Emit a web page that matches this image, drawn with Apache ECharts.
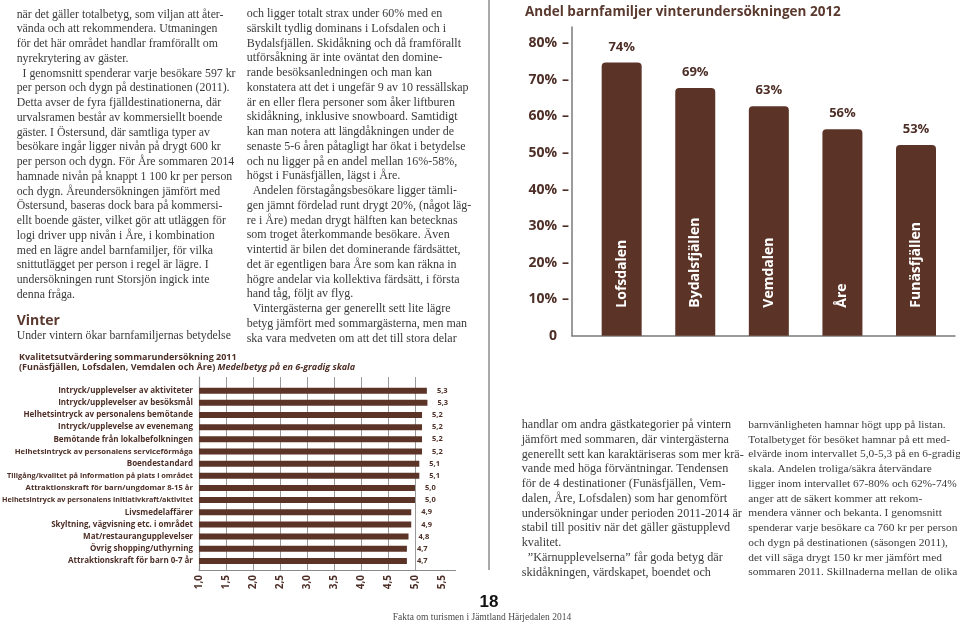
<!DOCTYPE html>
<html><head><meta charset="utf-8">
<script src="https://cdn.jsdelivr.net/npm/echarts@6/dist/echarts.min.js"></script>
<style>html,body{margin:0;padding:0;background:#fff}#c{width:960px;height:624px}</style>
</head><body><div id="c"></div>
<script>
// ---- Chart 1: Andel barnfamiljer vinterundersökningen 2012 ----
const familyCategories = ['Lofsdalen', 'Bydalsfjällen', 'Vemdalen', 'Åre', 'Funäsfjällen'];
const familyValues = [74.8, 67.8, 62.8, 56.5, 52.2];
const familyLabels = ['74%', '69%', '63%', '56%', '53%'];

// ---- Chart 2: Kvalitetsutvärdering sommarundersökning 2011 ----
const qualityCategories = [
  'Intryck/upplevelser av aktiviteter',
  'Intryck/upplevelser av besöksmål',
  'Helhetsintryck av personalens bemötande',
  'Intryck/upplevelse av evenemang',
  'Bemötande från lokalbefolkningen',
  'Helhetsintryck av personalens serviceförmåga',
  'Boendestandard',
  'Tillgång/kvalitet på information på plats i området',
  'Attraktionskraft för barn/ungdomar 8-15 år',
  'Helhetsintryck av personalens initiativkraft/aktivitet',
  'Livsmedelaffärer',
  'Skyltning, vägvisning etc. i området',
  'Mat/restaurangupplevelser',
  'Övrig shopping/uthyrning',
  'Attraktionskraft för barn 0-7 år'
];
const qualityValues = [5.22, 5.23, 5.13, 5.13, 5.13, 5.13, 5.08, 5.08, 5.0, 5.0, 4.93, 4.93, 4.88, 4.85, 4.85];
const qualityLabels = ['5,3', '5,3', '5,2', '5,2', '5,2', '5,2', '5,1', '5,1', '5,0', '5,0', '4,9', '4,9', '4,8', '4,7', '4,7'];

// ---- Page text ----
const col1 = [
  'när det gäller totalbetyg, som viljan att åter-',
  'vända och att rekommendera. Utmaningen',
  'för det här området handlar framförallt om',
  'nyrekrytering av gäster.',
  '\u2002I genomsnitt spenderar varje besökare 597 kr',
  'per person och dygn på destinationen (2011).',
  'Detta avser de fyra fjälldestinationerna, där',
  'urvalsramen består av kommersiellt boende',
  'gäster. I Östersund, där samtliga typer av',
  'besökare ingår ligger nivån på drygt 600 kr',
  'per person och dygn. För Åre sommaren 2014',
  'hamnade nivån på knappt 1 100 kr per person',
  'och dygn. Åreundersökningen jämfört med',
  'Östersund, baseras dock bara på kommersi-',
  'ellt boende gäster, vilket gör att utläggen för',
  'logi driver upp nivån i Åre, i kombination',
  'med en lägre andel barnfamiljer, för vilka',
  'snittutlägget per person i regel är lägre. I',
  'undersökningen runt Storsjön ingick inte',
  'denna fråga.'
];
const col1b = ['Under vintern ökar barnfamiljernas betydelse'];
const col2 = [
  'och ligger totalt strax under 60% med en',
  'särskilt tydlig dominans i Lofsdalen och i',
  'Bydalsfjällen. Skidåkning och då framförallt',
  'utförsåkning är inte oväntat den domine-',
  'rande besöksanledningen och man kan',
  'konstatera att det i ungefär 9 av 10 ressällskap',
  'är en eller flera personer som åker liftburen',
  'skidåkning, inklusive snowboard. Samtidigt',
  'kan man notera att längdåkningen under de',
  'senaste 5-6 åren påtagligt har ökat i betydelse',
  'och nu ligger på en andel mellan 16%-58%,',
  'högst i Funäsfjällen, lägst i Åre.',
  '\u2002Andelen förstagångsbesökare ligger tämli-',
  'gen jämnt fördelad runt drygt 20%, (något läg-',
  're i Åre) medan drygt hälften kan betecknas',
  'som troget återkommande besökare. Även',
  'vintertid är bilen det dominerande färdsättet,',
  'det är egentligen bara Åre som kan räkna in',
  'högre andelar via kollektiva färdsätt, i första',
  'hand tåg, följt av flyg.',
  '\u2002Vintergästerna ger generellt sett lite lägre',
  'betyg jämfört med sommargästerna, men man',
  'ska vara medveten om att det till stora delar'
];
const col3 = [
  'handlar om andra gästkategorier på vintern',
  'jämfört med sommaren, där vintergästerna',
  'generellt sett kan karaktäriseras som mer krä-',
  'vande med höga förväntningar. Tendensen',
  'för de 4 destinationer (Funäsfjällen, Vem-',
  'dalen, Åre, Lofsdalen) som har genomfört',
  'undersökningar under perioden 2011-2014 är',
  'stabil till positiv när det gäller gästupplevd',
  'kvalitet.',
  '\u2002”Kärnupplevelserna” får goda betyg där',
  'skidåkningen, värdskapet, boendet och'
];
const col4 = [
  'barnvänligheten hamnar högt upp på listan.',
  'Totalbetyget för besöket hamnar på ett med-',
  'elvärde inom intervallet 5,0-5,3 på en 6-gradig',
  'skala. Andelen troliga/säkra återvändare',
  'ligger inom intervallet 67-80% och 62%-74%',
  'anger att de säkert kommer att rekom-',
  'mendera vänner och bekanta. I genomsnitt',
  'spenderar varje besökare ca 760 kr per person',
  'och dygn på destinationen (säsongen 2011),',
  'det vill säga drygt 150 kr mer jämfört med',
  'sommaren 2011. Skillnaderna mellan de olika'
];

const BROWN = '#5b3427';
const TEXT_BROWN = '#4e2f27';
const BODY = '#3a3a3a';
const SANS = '"Open Sans", "DejaVu Sans", sans-serif';
const SERIF = '"Liberation Serif", "DejaVu Serif", serif';
const LH = 14.75;

function textBlock(lines, x, firstCenter, size) {
  return {
    type: 'text', x: x, y: firstCenter - LH / 2, silent: true,
    style: {
      text: lines.join('\n'), fill: BODY,
      fontFamily: SERIF, fontSize: size, lineHeight: LH,
      align: 'left', verticalAlign: 'top'
    }
  };
}

const decimalFmt = v => {
  if (Math.abs(v * 2 - Math.round(v * 2)) > 1e-6) return '';
  return v.toFixed(1).replace('.', ',');
};

// long category names are set in a smaller size so they fit the left margin
const qualityAxisData = qualityCategories.map(name => {
  const n = name.length;
  const size = n > 52 ? 7.2 : (n > 48 ? 7.35 : (n >= 42 ? 7.7 : 8));
  return { value: name, textStyle: { fontSize: size } };
});

const chart = echarts.init(document.getElementById('c'), null, { renderer: 'canvas' });
chart.setOption({
  animation: false,
  backgroundColor: '#ffffff',
  title: [{
    text: 'Andel barnfamiljer vinterundersökningen 2012',
    left: 520, top: 0,
    textStyle: { fontFamily: SANS, fontSize: 13.5, fontWeight: 'bold', color: '#5a392f' }
  }],
  grid: [
    { left: 572, top: 27, width: 383, height: 308.7, containLabel: false, outerBoundsMode: 'none' },
    { left: 199, top: 384.6, width: 256.5, height: 182.4, containLabel: false, outerBoundsMode: 'none' },
    { left: 199, top: 377, width: 216, height: 193, containLabel: false, outerBoundsMode: 'none' }
  ],
  xAxis: [
    { gridIndex: 0, type: 'value', min: -0.675, max: 4.53,
      axisLine: { show: true, onZero: false, lineStyle: { color: '#7a7a7a', width: 1.5 } },
      axisTick: { show: false }, axisLabel: { show: false }, splitLine: { show: false } },
    { gridIndex: 1, type: 'value', min: 1, max: 5.75, interval: 0.5, offset: 3,
      axisLine: { show: true, onZero: false, lineStyle: { color: '#8a8a8a', width: 1.2 } },
      axisTick: { show: false }, splitLine: { show: false },
      axisLabel: { rotate: 90, margin: 5, formatter: decimalFmt,
        fontFamily: SANS, fontSize: 10, fontWeight: 'bold', color: TEXT_BROWN } },
    { gridIndex: 2, type: 'value', min: 1, max: 5, interval: 0.5,
      axisLine: { show: false }, axisTick: { show: false }, axisLabel: { show: false },
      splitLine: { show: true, lineStyle: { color: '#9a9a9a', width: 1 } } }
  ],
  yAxis: [
    { gridIndex: 0, type: 'value', min: 0, max: 84.5, interval: 10,
      axisLine: { show: true, onZero: false, lineStyle: { color: '#7a7a7a', width: 1.5 } },
      axisTick: { show: false }, splitLine: { show: false },
      axisLabel: {
        margin: 3,
        formatter: v => {
          if (v % 10 !== 0) return '';
          return v === 0 ? '{v|0}{d|}' : '{v|' + v + '%}{d|–}';
        },
        rich: {
          v: { fontFamily: SANS, fontSize: 14, fontWeight: 'bold', color: TEXT_BROWN },
          d: { width: 12, align: 'right', fontFamily: SANS, fontSize: 14, fontWeight: 'bold', color: TEXT_BROWN }
        }
      } },
    { gridIndex: 1, type: 'category', data: qualityAxisData, inverse: true,
      axisLine: { show: false }, axisTick: { show: false }, splitLine: { show: false },
      axisLabel: { margin: 6, fontFamily: SANS, fontSize: 8, fontWeight: 'bold', color: TEXT_BROWN } },
    { gridIndex: 2, type: 'value', min: 0, max: 1,
      axisLine: { show: true, onZero: false, lineStyle: { color: '#8a8a8a', width: 1.2 } },
      axisTick: { show: false }, axisLabel: { show: false }, splitLine: { show: false } }
  ],
  series: [
    { type: 'bar', xAxisIndex: 0, yAxisIndex: 0, barWidth: 40, barGap: '-100%',
      data: familyValues.map((v, i) => [i, v]),
      itemStyle: { color: BROWN, borderRadius: [4, 4, 0, 0] },
      label: { show: true, position: 'top', distance: 9,
        formatter: p => familyLabels[p.dataIndex],
        fontFamily: SANS, fontSize: 13, fontWeight: 'bold', color: TEXT_BROWN } },
    { type: 'bar', xAxisIndex: 0, yAxisIndex: 0, barWidth: 40, barGap: '-100%',
      data: familyValues.map((v, i) => [i, v]),
      itemStyle: { color: 'rgba(0,0,0,0)' }, z: 3,
      label: { show: true, position: 'insideBottom', distance: 28, rotate: 90,
        align: 'left', verticalAlign: 'middle',
        formatter: p => familyCategories[p.dataIndex],
        fontFamily: SANS, fontSize: 14, fontWeight: 'bold', color: '#ffffff' } },
    { type: 'bar', xAxisIndex: 1, yAxisIndex: 1, barWidth: 6,
      data: qualityValues,
      itemStyle: { color: BROWN },
      label: { show: true, position: 'right', distance: 10,
        formatter: p => qualityLabels[p.dataIndex],
        fontFamily: SANS, fontSize: 7.5, fontWeight: 'bold', color: TEXT_BROWN } },
    { type: 'bar', xAxisIndex: 2, yAxisIndex: 2, data: [] }
  ],
  graphic: [
    { type: 'line', silent: true, shape: { x1: 489, y1: 0, x2: 489, y2: 570 },
      style: { stroke: '#8c8c8c', lineWidth: 1.5 } },
    textBlock(col1, 16.7, 14.5, 11.8),
    { type: 'text', x: 16.7, y: 320.7, silent: true,
      style: { text: 'Vinter', fill: '#5a392f', fontFamily: SANS, fontSize: 14, fontWeight: 'bold',
        align: 'left', verticalAlign: 'middle' } },
    textBlock(col1b, 16.7, 336, 11.8),
    textBlock(col2, 246.7, 14, 12),
    textBlock(col3, 521.7, 425, 12.2),
    textBlock(col4, 748.3, 425, 11.4),
    { type: 'text', x: 19, y: 352, silent: true,
      style: {
        text: '{a|Kvalitetsutvärdering sommarundersökning 2011}\n{a|(Funäsfjällen, Lofsdalen, Vemdalen och Åre) }{b|Medelbetyg på en 6-gradig skala}',
        rich: {
          a: { fontFamily: SANS, fontSize: 9, fontWeight: 'bold', fill: TEXT_BROWN, lineHeight: 10.5 },
          b: { fontFamily: SANS, fontSize: 9, fontWeight: 'bold', fontStyle: 'italic', fill: TEXT_BROWN, lineHeight: 10.5 }
        },
        align: 'left', verticalAlign: 'top'
      } },
    { type: 'text', x: 489, y: 602, silent: true,
      style: { text: '18', fill: '#111', fontFamily: '"Liberation Sans", Arial, sans-serif', fontSize: 17, fontWeight: 'bold',
        align: 'center', verticalAlign: 'middle' } },
    { type: 'text', x: 482, y: 617, silent: true,
      style: { text: 'Fakta om turismen i Jämtland Härjedalen 2014', fill: '#4a4a4a',
        fontFamily: SERIF, fontSize: 9.5, align: 'center', verticalAlign: 'middle' } }
  ]
});
</script>
</body></html>
